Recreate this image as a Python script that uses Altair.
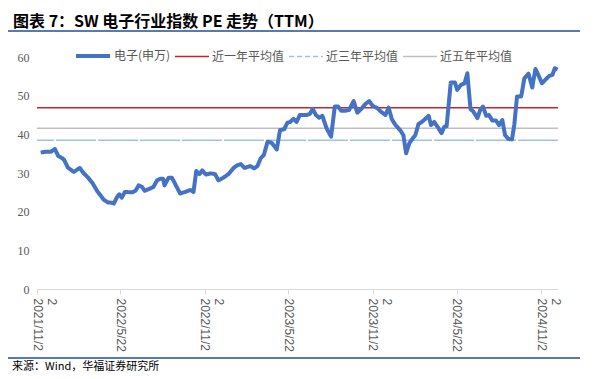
import altair as alt
import pandas as pd

# ---- data ----
dates = [
    "2021-11-30", "2021-12-11", "2021-12-22", "2021-12-31", "2022-01-07", "2022-01-16",
    "2022-01-20", "2022-01-28", "2022-02-10", "2022-02-23", "2022-03-03", "2022-03-13",
    "2022-03-22", "2022-04-02", "2022-04-16", "2022-04-25", "2022-05-04", "2022-05-08",
    "2022-05-15", "2022-05-20", "2022-05-25", "2022-06-01", "2022-06-17", "2022-06-24",
    "2022-07-01", "2022-07-08", "2022-07-14", "2022-07-26", "2022-08-02", "2022-08-10",
    "2022-08-17", "2022-08-23", "2022-08-26", "2022-09-04", "2022-09-11", "2022-09-29",
    "2022-10-10", "2022-10-21", "2022-10-28", "2022-11-03", "2022-11-10", "2022-11-16",
    "2022-11-24", "2022-12-05", "2022-12-14", "2022-12-21", "2023-01-01", "2023-01-12",
    "2023-01-23", "2023-01-31", "2023-02-08", "2023-02-16", "2023-02-28", "2023-03-09",
    "2023-03-16", "2023-03-23", "2023-03-30", "2023-04-07", "2023-04-16", "2023-04-27",
    "2023-05-04", "2023-05-13", "2023-05-20", "2023-05-26", "2023-06-02", "2023-06-09",
    "2023-06-16", "2023-07-01", "2023-07-08", "2023-07-14", "2023-07-21", "2023-07-28",
    "2023-08-04", "2023-08-13", "2023-08-23", "2023-08-31", "2023-09-07", "2023-09-14",
    "2023-09-23", "2023-10-01", "2023-10-11", "2023-10-19", "2023-10-27", "2023-11-06",
    "2023-11-14", "2023-11-21", "2023-12-01", "2023-12-09", "2023-12-19", "2023-12-26",
    "2024-01-02", "2024-01-10", "2024-01-20", "2024-01-27", "2024-02-02", "2024-02-09",
    "2024-02-16", "2024-02-22", "2024-02-29", "2024-03-07", "2024-03-12", "2024-03-22",
    "2024-03-27", "2024-04-03", "2024-04-10", "2024-04-19", "2024-04-25", "2024-04-30",
    "2024-05-09", "2024-05-18", "2024-05-23", "2024-05-31", "2024-06-08", "2024-06-14",
    "2024-06-21", "2024-06-27", "2024-07-06", "2024-07-12", "2024-07-18", "2024-07-25",
    "2024-07-31", "2024-08-07", "2024-08-15", "2024-08-22", "2024-08-29", "2024-09-04",
    "2024-09-11", "2024-09-19", "2024-09-24", "2024-09-30", "2024-10-09", "2024-10-16",
    "2024-10-25", "2024-11-02", "2024-11-09", "2024-11-14", "2024-11-23", "2024-12-02",
    "2024-12-09", "2024-12-16", "2024-12-21", "2024-12-27",
]
pe = [
    35.3, 35.5, 35.5, 36.2, 34.4, 33.8,
    33.4, 31.4, 30.3, 31.3, 30.0, 28.8,
    27.5, 25.3, 23.1, 22.4, 22.3, 22.1,
    23.8, 24.5, 23.6, 25.1, 25.0, 25.4,
    26.8, 26.4, 25.4, 26.0, 26.4, 28.1,
    28.5, 28.5, 26.8, 28.8, 28.8, 24.7,
    25.1, 25.6, 25.1, 30.5, 29.7, 30.7,
    29.6, 29.9, 29.7, 28.1, 28.8, 29.7,
    31.3, 32.0, 32.3, 31.3, 31.8, 31.2,
    31.8, 33.8, 34.7, 38.1, 37.8, 36.1,
    41.1, 41.3, 43.0, 43.2, 44.0, 43.2,
    45.0, 45.0, 45.3, 46.6, 45.0, 44.3,
    44.8, 41.6, 39.4, 47.2, 47.2, 46.1,
    46.1, 46.3, 48.6, 45.6, 46.5, 47.9,
    48.6, 47.4, 46.8, 45.9, 45.0, 46.9,
    43.9, 42.4, 41.1, 39.8, 35.1, 37.7,
    38.9, 39.8, 42.7, 43.2, 43.7, 44.8,
    42.4, 43.2, 42.0, 40.3, 42.0, 42.1,
    53.4, 53.4, 51.5, 52.8, 53.2, 55.8,
    46.5, 45.9, 44.2, 46.3, 47.2, 44.8,
    45.0, 43.6, 43.6, 42.4, 43.7, 39.8,
    38.8, 38.7, 42.4, 49.8, 49.8, 54.5,
    55.7, 52.1, 56.9, 55.7, 53.2, 54.3,
    55.1, 55.4, 57.1, 56.7,
]
avg_names = ["近一年平均值", "近三年平均值", "近五年平均值"]
avg_values = [46.9, 38.5, 41.6]

series_names = ["电子(申万)", "近一年平均值", "近三年平均值", "近五年平均值"]
series_colors = ["#4472C4", "#C0272D", "#9DC3E6", "#BFBFBF"]
series_dashes = [[1, 0], [1, 0], [5, 3], [1, 0]]
series_widths = [4, 1.5, 1.5, 1.5]

y_ticks = [0, 10, 20, 30, 40, 50, 60]
x_tick_dates = [(2021, 11, 22), (2022, 5, 22), (2022, 11, 22), (2023, 5, 22),
                (2023, 11, 22), (2024, 5, 22), (2024, 11, 22)]
x_domain = [(2021, 11, 22), (2024, 12, 28)]

title_text = "图表 7：SW 电子行业指数 PE 走势（TTM）"
source_text = "来源：Wind，华福证券研究所"

# ---- tables ----
line_df = pd.DataFrame({"date": dates, "pe": pe, "series": series_names[0]})
avg_df = pd.DataFrame({"series": avg_names, "pe": avg_values})

def dt(t):
    return alt.DateTime(year=t[0], month=t[1], date=t[2], utc=True)

color_scale = alt.Scale(domain=series_names, range=series_colors)
dash_scale = alt.Scale(domain=series_names, range=series_dashes)
width_scale = alt.Scale(type="ordinal", domain=series_names, range=series_widths)
y_scale = alt.Scale(domain=[0, 60], nice=False)
x_scale = alt.Scale(type="utc", domain=[dt(d) for d in x_domain], nice=False)

legend = alt.Legend(
    title=None, orient="none", legendX=37, legendY=-20, direction="horizontal",
    symbolType="stroke", symbolSize=1156, labelFont="Noto Sans CJK SC",
    labelFontSize=12, labelColor="#595959", columnPadding=1, labelOffset=2,
)

lab = "utcFormat(datum.value, '%Y/%-m/%-d')"
x_axis = alt.Axis(
    values=[dt(d) for d in x_tick_dates],
    labelExpr=f"length({lab}) > 9 ? [slice({lab}, 0, 9), slice({lab}, 9)] : {lab}",
    labelAngle=90, labelAlign="left", labelBaseline="middle", labelLineHeight=-14,
    labelFont="Liberation Sans", labelFontSize=12, labelColor="#595959",
    labelPadding=4, labelOverlap=False, domainColor="#D9D9D9", tickColor="#D9D9D9",
    tickSize=5, grid=False, title=None,
)
y_axis = alt.Axis(
    values=y_ticks, domain=False, ticks=False, grid=False, title=None,
    labelFont="Liberation Serif", labelFontSize=12, labelColor="#595959", labelPadding=8,
)

rules = alt.Chart(avg_df).mark_rule().encode(
    y=alt.Y("pe:Q", scale=y_scale, axis=y_axis),
    color=alt.Color("series:N", scale=color_scale, legend=legend),
    strokeWidth=alt.StrokeWidth("series:N", scale=width_scale, legend=legend),
    strokeDash=alt.condition("datum.series === '近三年平均值'", alt.value([40, 2]), alt.value([1, 0])),
)

line = alt.Chart(line_df).mark_line(strokeJoin="round").encode(
    x=alt.X("date:T", scale=x_scale, axis=x_axis),
    y=alt.Y("pe:Q", scale=y_scale, axis=y_axis),
    color=alt.Color("series:N", scale=color_scale, legend=legend),
    strokeWidth=alt.StrokeWidth("series:N", scale=width_scale, legend=legend),
    strokeDash=alt.StrokeDash("series:N", scale=dash_scale, legend=legend),
)

title = alt.Chart(pd.DataFrame({"t": [title_text]})).mark_text(
    align="left", baseline="alphabetic", font="Noto Sans CJK SC", fontSize=16,
    fontWeight="bold", color="#000000",
).encode(x=alt.value(-24), y=alt.value(-30), text="t:N")

top_rule = alt.Chart(pd.DataFrame({"k": [0]})).mark_rule(color="#1F4E9A", strokeWidth=1.5).encode(
    x=alt.value(-29), x2=alt.value(543), y=alt.value(-26)
)
bottom_rule = alt.Chart(pd.DataFrame({"k": [0]})).mark_rule(color="#1F4E9A", strokeWidth=1.5).encode(
    x=alt.value(-29), x2=alt.value(543), y=alt.value(301)
)
source = alt.Chart(pd.DataFrame({"t": [source_text]})).mark_text(
    align="left", baseline="middle", font="Noto Sans CJK SC", fontSize=11, color="#000000",
).encode(x=alt.value(-25), y=alt.value(310), text="t:N")

chart = alt.layer(rules, line, title, top_rule, bottom_rule, source).properties(
    width=521, height=232,
    autosize=alt.AutoSizeParams(type="none"),
    padding={"left": 29, "top": 49, "right": 29, "bottom": 84},
).configure_view(stroke=None)

chart.save("out.html", embed_options={"renderer": "svg", "actions": False})
